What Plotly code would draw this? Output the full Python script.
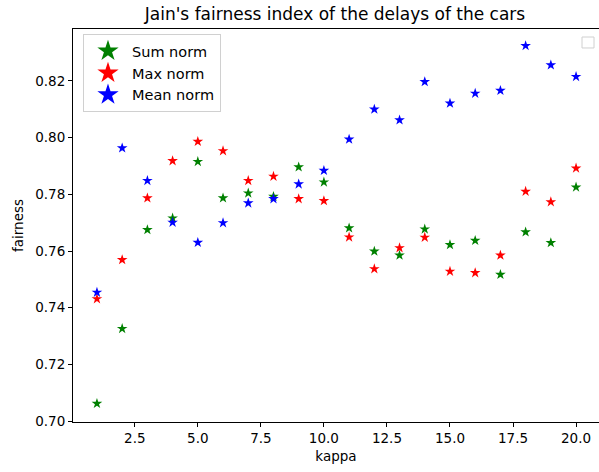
import plotly.graph_objects as go

# kappa values and Jain's fairness index for each delay normalisation
kappa = list(range(1, 21))
sum_norm = [0.7062, 0.7326, 0.7675, 0.7716, 0.7915, 0.7787, 0.7804, 0.7792, 0.7896, 0.7843,
            0.7681, 0.7599, 0.7585, 0.7677, 0.7622, 0.7637, 0.7517, 0.7667, 0.7629, 0.7825]
max_norm = [0.7431, 0.7569, 0.7787, 0.7918, 0.7986, 0.7953, 0.7848, 0.7863, 0.7784, 0.7777,
            0.7649, 0.7537, 0.7611, 0.7648, 0.7528, 0.7523, 0.7585, 0.7810, 0.7773, 0.7892]
mean_norm = [0.7454, 0.7963, 0.7848, 0.7701, 0.7630, 0.7699, 0.7769, 0.7784, 0.7836, 0.7884,
             0.7994, 0.8100, 0.8062, 0.8197, 0.8121, 0.8156, 0.8166, 0.8324, 0.8256, 0.8215]

series = [("Sum norm", sum_norm, "#008000"),
          ("Max norm", max_norm, "#ff0000"),
          ("Mean norm", mean_norm, "#0000ff")]

FONT = "DejaVu Sans"
fig = go.Figure()

for name, vals, color in series:
    fig.add_trace(go.Scatter(
        x=kappa, y=vals, mode="markers", name=name, showlegend=False,
        marker=dict(symbol="star", size=8, color=color, line=dict(width=0)),
    ))
# larger symbols for the legend entries
for name, vals, color in series:
    fig.add_trace(go.Scatter(
        x=[None], y=[None], mode="markers", name=name, showlegend=True,
        marker=dict(symbol="star", size=16, color=color, line=dict(width=0)),
    ))

fig.update_layout(
    width=599, height=472,
    margin=dict(l=73, r=0, t=29, b=50),
    paper_bgcolor="white", plot_bgcolor="white",
    font=dict(family=FONT, size=13.5, color="black"),
    title=dict(text="Jain's fairness index of the delays of the cars",
               x=(335 / 599), xanchor="center", y=1 - 14 / 472, yanchor="middle",
               font=dict(family=FONT, size=17, color="black")),
    showlegend=True,
    legend=dict(x=0.019, y=0.987, xanchor="left", yanchor="top",
                bgcolor="white", bordercolor="#d0d0d0", borderwidth=1,
                font=dict(family=FONT, size=14.5, color="black"),
                itemwidth=38, tracegroupgap=0),
    xaxis=dict(range=[0.05, 20.91], tickvals=[2.5, 5.0, 7.5, 10.0, 12.5, 15.0, 17.5, 20.0],
               ticktext=["2.5", "5.0", "7.5", "10.0", "12.5", "15.0", "17.5", "20.0"],
               showgrid=False, zeroline=False, showline=True, linecolor="black", linewidth=1,
               mirror=True, ticks="outside", ticklen=4, tickcolor="black",
               title=dict(text="kappa", standoff=6, font=dict(family=FONT, size=13.5))),
    yaxis=dict(range=[0.6997, 0.8383], tickvals=[0.70, 0.72, 0.74, 0.76, 0.78, 0.80, 0.82],
               ticktext=["0.70", "0.72", "0.74", "0.76", "0.78", "0.80", "0.82"],
               showgrid=False, zeroline=False, showline=True, linecolor="black", linewidth=1,
               ticks="outside", ticklen=4, tickcolor="black",
               title=dict(text="fairness", standoff=8, font=dict(family=FONT, size=13.5))),
    shapes=[dict(type="rect", xref="paper", yref="paper",
                 x0=0.9677, x1=0.9905, y0=0.9517, y1=0.9796,
                 line=dict(color="#d0d0d0", width=1), fillcolor="white")],
)

fig.write_html("out.html")
